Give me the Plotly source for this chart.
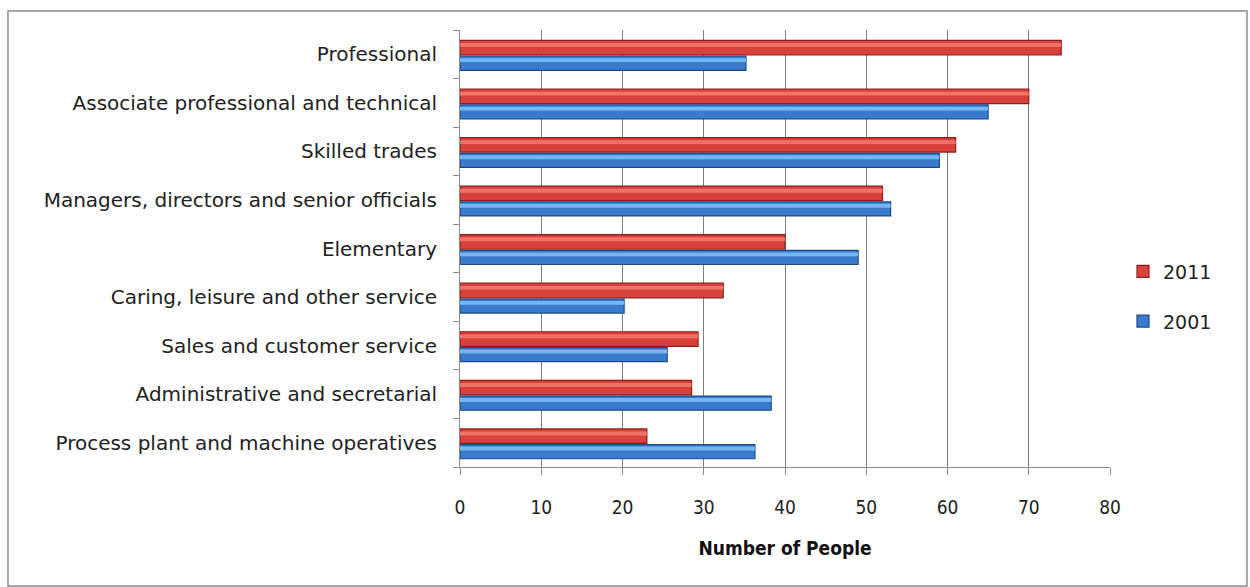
import plotly.graph_objects as go

categories = [
    "Process plant and machine operatives",
    "Administrative and secretarial",
    "Sales and customer service",
    "Caring, leisure and other service",
    "Elementary",
    "Managers, directors and senior officials",
    "Skilled trades",
    "Associate professional and technical",
    "Professional",
]
values_2011 = [23, 28.5, 29.3, 32.4, 40, 52, 61, 70, 74]
values_2001 = [36.3, 38.3, 25.5, 20.2, 49, 53, 59, 65, 35.2]
x_ticks = [0, 10, 20, 30, 40, 50, 60, 70, 80]

label_font = "DejaVu Sans, Verdana, sans-serif"
tick_font = "DejaVu Sans Condensed, Liberation Sans Narrow, sans-serif"

fig = go.Figure()

# main bars
fig.add_trace(go.Bar(
    y=categories, x=values_2011, orientation="h", name="2011",
    offset=-0.015, width=0.30,
    marker=dict(color="#D8413C", line=dict(color="#8E1F1C", width=1.2)),
    legendgroup="a", legendrank=1,
))
fig.add_trace(go.Bar(
    y=categories, x=values_2001, orientation="h", name="2001",
    offset=-0.33, width=0.29,
    marker=dict(color="#3A7BCB", line=dict(color="#1E4A86", width=1.2)),
    legendgroup="b", legendrank=2,
))
# highlights (cylinder look)
fig.add_trace(go.Bar(
    y=categories, x=values_2011, orientation="h", showlegend=False, hoverinfo="skip",
    offset=0.15, width=0.08,
    marker=dict(color="#F2726A", line=dict(width=0)),
))
fig.add_trace(go.Bar(
    y=categories, x=values_2001, orientation="h", showlegend=False, hoverinfo="skip",
    offset=-0.16, width=0.08,
    marker=dict(color="#72B6F2", line=dict(width=0)),
))

fig.update_layout(
    width=1250, height=587,
    barmode="overlay",
    paper_bgcolor="white", plot_bgcolor="white",
    margin=dict(l=460, r=140, t=30, b=120),
    font=dict(family=label_font, size=17, color="#222222"),
    legend=dict(
        x=1.02, y=0.39, xanchor="left", yanchor="middle",
        font=dict(family=label_font, size=19, color="#222222"),
        tracegroupgap=22, bgcolor="rgba(0,0,0,0)",
        itemwidth=30,
    ),
    shapes=[dict(
        type="rect", xref="paper", yref="paper",
        x0=-0.6954, x1=1.2108, y0=-0.2723, y1=1.0435,
        line=dict(color="#8C8C8C", width=1.5), fillcolor="rgba(0,0,0,0)", layer="below",
    )],
)

fig.update_xaxes(
    range=[0, 80], tickvals=x_ticks, ticktext=[str(t) for t in x_ticks],
    showgrid=True, gridcolor="#7F7F7F", gridwidth=1,
    showline=True, linecolor="#8C8C8C", linewidth=1,
    ticks="outside", ticklen=7, tickcolor="#8C8C8C",
    ticklabelstandoff=16,
    tickfont=dict(family=tick_font, size=19, color="#222222"),
    zeroline=False,
    title=dict(text="<b>Number of People</b>", font=dict(family=tick_font, size=19, color="#111111"), standoff=24),
)
fig.update_yaxes(
    categoryorder="array", categoryarray=categories,
    range=[-0.5, 8.5],
    showline=True, linecolor="#8C8C8C", linewidth=1,
    ticks="outside", tickson="boundaries", ticklen=6, tickcolor="#8C8C8C",
    ticklabelstandoff=18,
    tickfont=dict(family=label_font, size=20, color="#222222"),
    showgrid=False,
)

fig.write_html("out.html")
